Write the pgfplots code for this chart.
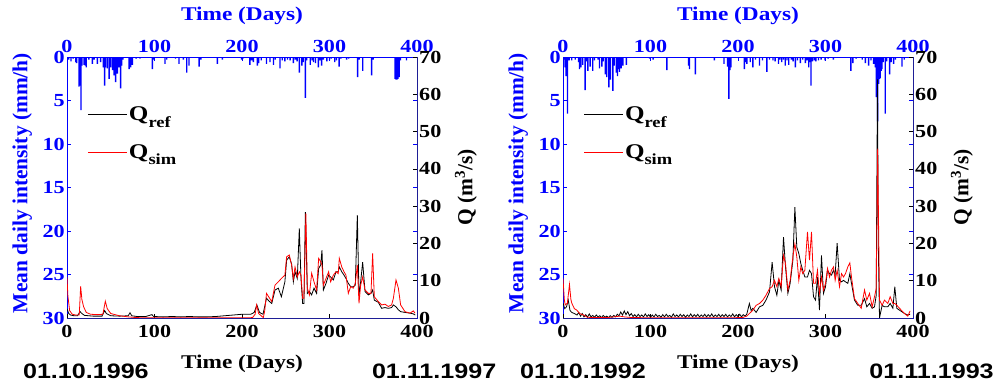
\documentclass[border=0pt]{standalone}
\usepackage{pgfplots}
\pgfplotsset{compat=1.18}
\usepackage{pgfplotstable}
\usepackage{graphicx}
\usepackage{fontspec}
\setmainfont{Liberation Serif}
\newfontfamily\arialfont{Liberation Sans}
\definecolor{rainblue}{RGB}{0,0,255}
\definecolor{navyax}{RGB}{30,30,150}
\newcommand\SX[1]{\scalebox{1.2}[1]{#1}}
\newcommand\tkfont{\fontsize{18.5}{18.5}\selectfont\bfseries}
\newcommand\lbfont{\fontsize{19.5}{19.5}\selectfont\bfseries}
\newcommand\ylfont{\fontsize{21.5}{21.5}\selectfont\bfseries}

% ---------- data: left panel (01.10.1996 - 01.11.1997) ----------
\pgfplotstableread{
day rain
2 0.3
4.6 0.5
7 0.2
10 0.6
11 0.7
13.7 3.4
15 3.3
16 6.1
17 1.0
19.4 0.9
21 1.0
22 1.2
25 0.3
29 0.8
31 0.3
34.7 0.8
38.5 0.6
41.5 1.2
43 3.3
44 1.2
46 1.3
48.2 2.5
50 1.2
52 1.5
53.7 2.1
55.6 2.9
57.5 1.9
59.4 1.2
61.3 3.6
62.5 1.0
64 0.3
71 1.4
72.8 1.2
74.7 0.9
79 0.2
83.4 0.2
97.5 1.4
99 0.3
112 0.8
114 0.3
124 0.2
128 0.8
133 0.3
136.8 1.8
139.4 1.0
151 1.1
153 0.3
171.8 0.8
177.5 0.3
199.6 0.3
201 0.2
209 0.9
211 0.4
213 0.6
217.6 1.0
219 0.7
222 0.4
228 0.8
232 0.6
236 0.9
238 0.3
243.4 1.3
246 0.4
249 0.5
252 0.3
255 0.4
258.7 0.7
261 0.3
263 0.5
265.5 1.8
268.5 1.0
270 0.6
272.4 4.7
274 0.4
278 0.9
280 0.4
281.7 0.6
284 0.7
287.2 1.2
289 0.4
291 1.0
293 0.3
297 0.5
300 0.4
302 0.2
306 0.6
308 0.4
311 1.1
313 0.2
319.6 0.3
322 0.2
332.2 2.3
334 0.3
338 1.6
348.2 2.1
350 0.3
375 2.5
376 2.6
377 2.6
378.3 2.5
379.5 2.3
381 0.4
388 0.4
}\rainA

\pgfplotstableread{
day q
0 2.5
2 1.2
4 0.8
8 0.6
12 0.6
15 1.7
17 1.2
20 0.7
25 0.6
30 0.5
40 0.5
43 2.0
45 1.2
50 0.6
60 0.5
70 0.6
72 1.4
74 0.6
80 0.4
90 0.4
97 0.9
99 0.4
110 0.3
120 0.4
130 0.3
140 0.4
150 0.3
160 0.3
170 0.4
180 0.6
190 0.8
200 1.0
210 1.0
214 1.5
217 3.5
220 1.5
224 1.0
228 5.3
231 4.5
234 3.9
237.7 7.5
241.5 8.0
245 5.7
249 9.7
251 15.5
254 16.4
256.7 14.5
258.7 9.7
260.6 12.4
263.2 10.6
265.5 24.0
267.4 10.6
269.3 3.9
270.8 3.9
272.4 28.4
274.7 6.6
277 7.1
279.6 6.2
282.3 8.0
285.3 6.6
287.6 13.3
289.9 14.2
291.4 18.2
293 7.5
296 9.3
299 11.5
301.3 11.0
304.4 10.2
307.4 12.4
310 12.4
311.2 13.7
314 12.4
316.6 11.5
318.8 10.6
321.5 9.3
324.2 8.4
327.2 8.4
329.5 8.8
331.8 27.6
333.7 6.2
335.6 9.7
337.9 15.0
340.6 7.1
344.4 6.2
347.4 6.6
349.3 7.5
351.2 4.8
355.8 4.2
359.6 2.6
363.4 2.8
367.2 2.6
371 2.8
373 3.5
376 3.0
378.7 2.2
381.3 1.7
386.3 1.5
392 1.3
395.8 1.1
398 0.8
}\refA

\pgfplotstableread{
day q
0 11.0
1 6.0
3 2.0
6 1.0
10 0.8
14 0.8
15.6 8.5
17 5.0
19 3.0
22 1.5
27 1.0
35 0.9
41 1.0
43.8 4.5
46 2.5
50 1.2
60 0.6
70 0.3
80 0.1
100 0.05
150 0.05
200 0.05
212 0.1
215 1.0
216.7 3.5
219 1.2
224.4 0.1
226 2.0
228 6.6
231 5.5
234 4.4
237.7 8.8
241.5 9.7
245 10.6
249 11.5
251 16.4
254 16.9
256.7 14.2
258.7 10.6
260.6 13.7
263.2 11.0
265.5 12.4
267.4 11.5
269.3 5.3
270.8 5.3
273 28.0
274.7 8.0
277 6.2
279.6 12.0
282.3 9.7
285.3 7.5
287.6 16.0
289.9 15.1
291.4 14.2
293 8.8
296 10.6
299 12.4
301.3 9.7
304.4 11.5
307.4 12.4
310 11.9
311.2 16.0
314 13.7
316.6 12.4
318.8 11.5
321.5 6.6
324.2 8.4
327.2 8.0
329.5 9.3
331.8 14.2
333.7 3.9
335.6 8.8
337.9 11.0
340.6 7.5
344.4 6.6
347.4 6.6
349.3 17.3
351.2 5.7
355.8 4.4
359.6 3.5
363.4 3.7
367.2 3.1
371 3.5
373 5.3
376 10.2
378.7 8.0
381.3 3.5
386.3 1.7
392 1.3
395.8 1.9
397.7 1.3
}\simA

% ---------- data: right panel (01.10.1992 - 01.11.1993) ----------
\pgfplotstableread{
day rain
1 0.3
2.4 1.2
3.6 2.2
5.1 6.5
7 0.4
10 0.4
14 0.3
17.7 0.6
18.9 1.4
20.4 1.2
22.6 0.9
25.3 3.8
27 0.5
28.4 1.6
31 1.1
34 1.6
36 0.4
40 0.3
41.7 1.3
44.4 1.1
46 0.5
48.4 2.0
50 2.3
52.4 3.5
54.3 2.6
57 3.9
58.5 1.0
60.8 1.8
62.3 2.2
63.5 1.4
64.6 1.7
66.5 1.3
68.4 1.0
72.5 0.9
99 0.2
103 0.3
118.7 1.5
143.5 1.0
144.6 1.4
151.2 2.0
173 0.4
184 0.8
188 1.1
189.6 4.8
190.8 1.5
192 1.2
207.2 1.4
208.5 0.6
210.2 0.8
214 0.6
217 1.2
220 0.3
224.6 1.0
228 0.4
233 1.7
236 0.3
240 0.4
242.5 0.5
246.3 0.8
248 0.3
250 0.6
252 0.3
254 1.0
256 0.4
258 0.9
261 0.3
263 0.5
265.6 1.2
268 0.4
271.3 0.7
274 0.3
277 0.7
279 0.4
280.8 1.2
282 0.6
283.4 3.3
285 0.5
287.2 0.4
289 0.5
292 0.4
295 0.3
299.6 0.4
303 0.2
309 0.3
329 1.6
331.3 0.7
335 0.2
342 0.3
345.5 0.7
349.3 1.0
352 0.4
355 0.8
357 1.2
358.1 4.6
359.6 7.4
360.8 3.1
361.8 2.5
362.6 2.4
363.5 1.6
364.5 1.4
366 0.6
368.3 6.5
370 0.5
373.3 2.0
375 0.6
377.9 0.8
380 0.3
387.4 1.1
390 0.3
}\rainB

\pgfplotstableread{
day q
0 4.0
2 2.5
4 3.0
6 4.8
8 2.0
10 1.5
13 1.2
16 0.8
18 1.5
20 0.5
22 1.2
24 0.3
26 0.9
28 0.2
30 1.1
32 0.3
34 0.7
36 0.2
38 0.8
40 0.3
42 0.6
44 0.1
46 0.7
48 0.2
50 0.5
52 0.1
54 0.6
56 0.2
58 0.7
60 0.3
62 1.0
64 0.6
66 1.6
68 0.8
70 1.9
72 0.9
74 1.7
76 0.6
78 1.2
80 0.4
82 0.9
84 0.3
86 1.0
88 0.4
90 0.8
92 0.3
94 1.1
96 0.4
98 0.9
100 0.2
102 0.8
104 0.3
106 1.0
108 0.4
110 0.7
112 0.2
114 0.9
116 0.3
118 1.0
120 0.4
122 0.7
124 0.2
126 1.1
128 0.4
130 0.8
132 0.3
134 1.0
136 0.4
138 0.9
140 0.2
142 0.8
144 0.4
146 1.1
148 0.3
150 0.9
152 0.4
154 1.0
156 0.3
158 0.8
160 0.4
162 1.0
164 0.3
166 0.9
168 0.4
170 1.1
172 0.3
174 0.8
176 0.4
178 1.0
180 0.3
182 0.9
184 0.4
186 1.0
188 0.3
190 0.8
192 0.4
194 1.1
196 0.3
198 0.9
200 0.4
202 1.0
204 0.3
206 0.9
208 0.5
210 1.0
213 3.9
215 2.0
217 2.6
220.7 1.5
224.6 3.0
228.4 3.4
232 4.8
236 7.0
239 15.0
241.7 8.4
244.4 6.1
246.7 10.1
249.3 7.5
252 21.7
254.3 13.7
257 6.6
259.6 9.3
262.7 15.5
265 29.7
267.2 19.0
269.5 17.3
271.8 14.6
274 12.8
276.4 11.0
279.4 11.0
281.7 12.8
284 11.9
286.3 5.7
288.6 4.8
290.8 11.0
293.1 2.1
295.4 16.8
297.7 6.6
300 8.4
302.3 12.8
304.6 11.9
306.8 11.5
309.1 12.8
311 11.5
313.3 20.1
316 10.1
318.3 9.7
320.6 10.1
322.8 9.7
325.5 9.3
327.8 11.9
329.7 9.3
333.1 4.8
336.9 3.4
340.8 3.4
344.6 5.2
347.2 3.0
350.3 3.9
353.3 2.6
356 3.0
357.9 6.0
359.4 64.0
360.3 20.0
361.7 0.0
364.7 3.4
367.4 3.0
371.2 3.0
373.9 3.9
377 2.6
379.2 8.4
381.5 2.6
384.6 2.1
390.3 1.2
394 0.8
396.7 1.0
}\refB

\pgfplotstableread{
day q
0 10.6
1.5 5.0
2.5 3.5
5 4.0
7.4 9.0
9 5.0
10 4.0
13 2.5
15.8 2.1
19 1.2
23.4 0.8
28 0.2
35 0.1
50 0.1
58 0.3
65 0.5
70 0.3
80 0.1
150 0.05
205 0.1
210 0.5
213 1.2
217 2.1
220.7 3.4
224.6 3.9
228.4 4.8
232 6.1
236 7.9
239 8.4
241.7 10.1
244.4 8.4
246.7 10.6
249.3 8.4
252 16.8
254.3 14.6
257 7.5
259.6 10.1
262.7 16.4
265 19.9
267.2 16.4
269.5 10.1
271.8 13.7
274 11.9
276.4 12.8
279.4 23.1
281.7 15.5
284 23.1
286.3 9.3
288.6 9.3
290.8 12.8
293.1 6.6
295.4 11.0
297.7 7.5
300 9.3
302.3 13.3
304.6 11.0
306.8 12.8
309.1 13.7
311 10.1
313.3 12.8
316 8.4
318.3 11.9
320.6 11.0
322.8 11.9
325.5 13.7
327.8 14.8
329.7 11.0
333.1 5.2
336.9 3.9
340.8 2.6
344.6 7.5
347.2 4.8
350.3 6.6
353.3 3.0
356 5.7
358 8.0
359.6 45.4
361.7 4.8
364.7 3.4
367.4 4.8
371.2 3.9
373.9 5.7
377 3.9
379.2 3.9
381.5 3.4
384.6 2.6
390.3 1.2
394 0.5
396.7 1.9
}\simB

\pgfplotsset{
  rainax/.style={
    scale only axis, width=350bp, height=261bp,
    xmin=0, xmax=400, ymin=0, ymax=30, y dir=reverse,
    axis line style={rainblue, line width=0.9bp},
    xtick={0,100,200,300,400},
    xticklabels={\SX{0},\SX{100},\SX{200},\SX{300},\SX{400}},
    ytick={0,5,10,15,20,25,30},
    yticklabels={\SX{0},\SX{5},\SX{10},\SX{15},\SX{20},\SX{25},\SX{30}},
    xtick pos=right, xticklabel pos=right,
    ytick pos=both, yticklabel pos=left,
    tick align=inside, major tick length=4bp,
    tick style={rainblue, line width=0.7bp},
    ticklabel style={rainblue, font=\tkfont},
    xticklabel style={inner sep=1bp, yshift=3bp},
    yticklabel style={inner sep=2bp},
    xlabel={\SX{Time (Days)}},
    xlabel style={rainblue, font=\lbfont, at={(axis description cs:0.5,1.157)}, anchor=center},
    ylabel={Mean daily intensity (mm/h)},
    ylabel style={rainblue, font=\ylfont, at={(axis description cs:-0.128,0.517)}, anchor=center},
  },
  flowax/.style={
    scale only axis, width=350bp, height=261bp,
    xmin=0, xmax=400, ymin=0, ymax=70,
    clip mode=individual,
    axis x line*=bottom, axis y line*=right,
    axis line style={navyax, line width=0.9bp},
    xtick={0,100,200,300,400},
    xticklabels={\SX{0},\SX{100},\SX{200},\SX{300},\SX{400}},
    ytick={0,10,20,30,40,50,60,70},
    yticklabels={\SX{0},\SX{10},\SX{20},\SX{30},\SX{40},\SX{50},\SX{60},\SX{70}},
    tick align=inside, major tick length=4bp,
    tick style={black, line width=0.7bp},
    ticklabel style={black, font=\tkfont},
    xticklabel style={inner sep=3bp, yshift=-4bp},
    yticklabel style={inner sep=2bp},
    xlabel={\SX{Time (Days)}},
    xlabel style={black, font=\lbfont, at={(axis description cs:0.5,-0.176)}, anchor=center},
    ylabel={Q (m\textsuperscript{3}/s)},
    ylabel style={black, font=\ylfont, at={(axis description cs:1.14,0.5)}, anchor=center},
    legend style={draw=none, fill=none, at={(axis description cs:0.058,0.815)}, anchor=north west,
      inner sep=0pt, row sep=19bp, font=\fontsize{21}{21}\selectfont\bfseries,
      nodes={inner sep=1.5bp}},
    legend cell align=left,
    legend image code/.code={\draw[#1, line width=1bp] (0bp,0bp) -- (39bp,0bp);},
  },
}
\newcommand\Qlab[1]{\SX{Q\raisebox{-0.3em}{\fontsize{15.5}{15.5}\selectfont #1}}}
\newcommand\datefont{\arialfont\bfseries\fontsize{21}{21}\selectfont}

\begin{document}
\begin{tikzpicture}
\path[use as bounding box] (0,0) rectangle (994bp,387bp);
% ===== left panel =====
\begin{axis}[rainax, at={(67bp,69bp)}, anchor=south west]
  \addplot[ybar, bar width=1.4bp, bar shift=0pt, fill=rainblue, draw=none] table[x=day, y=rain] {\rainA};
\end{axis}
\begin{axis}[flowax, at={(67bp,69bp)}, anchor=south west]
  \addplot[black, line width=0.8bp] table[x=day, y=q] {\refA};
  \addlegendentry{\Qlab{ref}}
  \addplot[red, line width=0.8bp] table[x=day, y=q] {\simA};
  \addlegendentry{\Qlab{sim}}
  \node[font=\datefont] at (axis description cs:0.054,-0.203) {\SX{01.10.1996}};
  \node[font=\datefont] at (axis description cs:1.049,-0.203) {\SX{01.11.1997}};
\end{axis}
% ===== right panel =====
\begin{axis}[rainax, at={(563bp,69bp)}, anchor=south west]
  \addplot[ybar, bar width=1.4bp, bar shift=0pt, fill=rainblue, draw=none] table[x=day, y=rain] {\rainB};
\end{axis}
\begin{axis}[flowax, at={(563bp,69bp)}, anchor=south west]
  \addplot[black, line width=0.8bp] table[x=day, y=q] {\refB};
  \addlegendentry{\Qlab{ref}}
  \addplot[red, line width=0.8bp] table[x=day, y=q] {\simB};
  \addlegendentry{\Qlab{sim}}
  \node[font=\datefont] at (axis description cs:0.057,-0.203) {\SX{01.10.1992}};
  \node[font=\datefont] at (axis description cs:1.053,-0.203) {\SX{01.11.1993}};
\end{axis}
\end{tikzpicture}
\end{document}
